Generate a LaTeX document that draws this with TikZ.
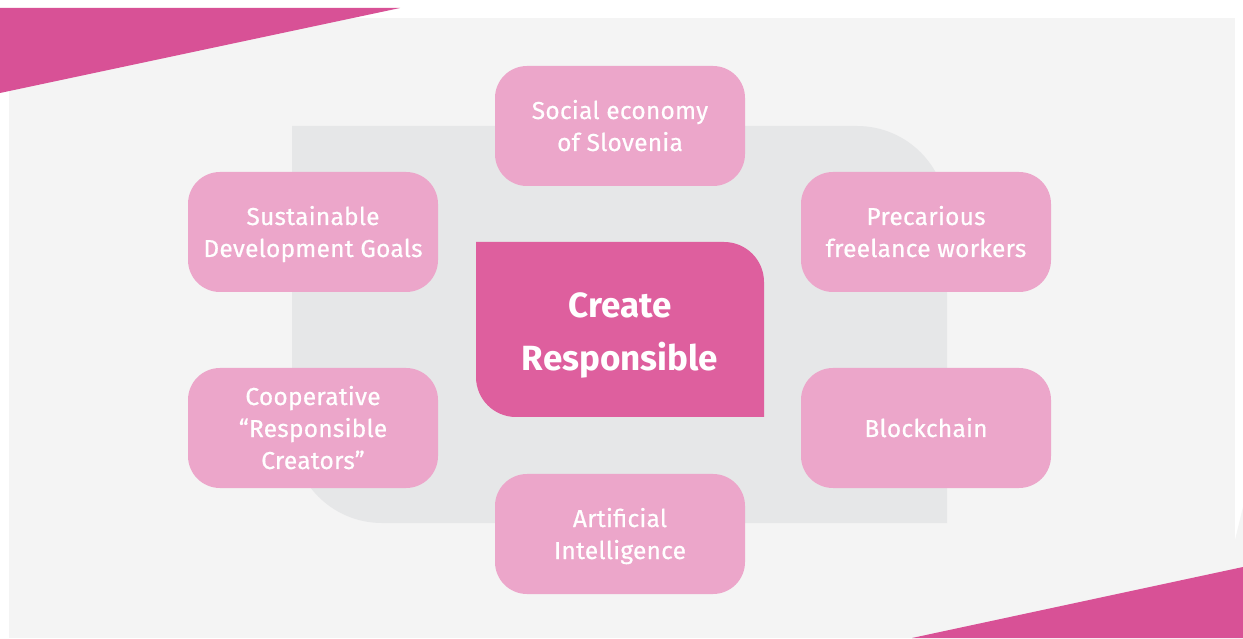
\documentclass[tikz,border=0pt]{standalone}
\usepackage{fontspec}
\setmainfont{Fira Sans}
\newfontfamily\labelfont[FakeBold=0.6,LetterSpace=1]{Fira Sans}
\newcommand\mytopstrut{\rule{0pt}{26pt}}
\newcommand\mybotstrut{\rule[-8pt]{0pt}{8pt}}
\definecolor{accentpink}{HTML}{D85196}
\definecolor{centerpink}{HTML}{DE5F9E}
\definecolor{boxpink}{HTML}{ECA6CA}
\definecolor{panelgrey}{HTML}{F4F4F4}
\definecolor{innergrey}{HTML}{E6E7E8}
\begin{document}
\begin{tikzpicture}[x=1pt,y=1pt,
  outerbox/.style={fill=boxpink, rounded corners=32pt, minimum width=250pt, minimum height=120pt,
    inner sep=0pt, text=white, align=center, font=\labelfont\fontsize{24.5}{32}\selectfont},
  centerlabel/.style={text=white, align=center, font=\bfseries\fontsize{35}{53}\selectfont}]
\useasboundingbox (0,0) rectangle (1243,638);
\fill[white] (0,0) rectangle (1243,638);
% light panel
\fill[panelgrey] (9,0) rectangle (1235,620);
\fill[panelgrey] (1235,98) -- (1243,131) -- (1243,0) -- (1235,0) -- cycle;
% corner triangles
\fill[accentpink] (0,630) -- (400,630) -- (0,545) -- cycle;
\fill[accentpink] (912,0) -- (1243,71) -- (1243,0) -- cycle;
% inner grey panel
\fill[innergrey] (292,512) -- (857,512) arc(90:0:90) -- (947,115) -- (382,115) arc(270:180:90) -- cycle;
% central shape
\fill[centerpink] (476,396) -- (724,396) arc(90:0:40) -- (764,221) -- (516,221) arc(270:180:40) -- cycle;
\node[centerlabel] (center) at (620,303) {Create\\Responsible};
% outer boxes
\node[outerbox] (social) at (620,512) {\mytopstrut Social economy\\of Slovenia\mybotstrut};
\node[outerbox] (sdg) at (313,406) {\mytopstrut Sustainable\\Development Goals\mybotstrut};
\node[outerbox] (prec) at (926,406) {\mytopstrut Precarious\\freelance workers\mybotstrut};
\node[outerbox] (coop) at (313,210) {\mytopstrut Cooperative\\“Responsible\\Creators”\mybotstrut};
\node[outerbox] (block) at (926,210) {\mytopstrut Blockchain\mybotstrut};
\node[outerbox] (ai) at (620,104) {\mytopstrut Artificial\\Intelligence\mybotstrut};
\end{tikzpicture}
\end{document}
